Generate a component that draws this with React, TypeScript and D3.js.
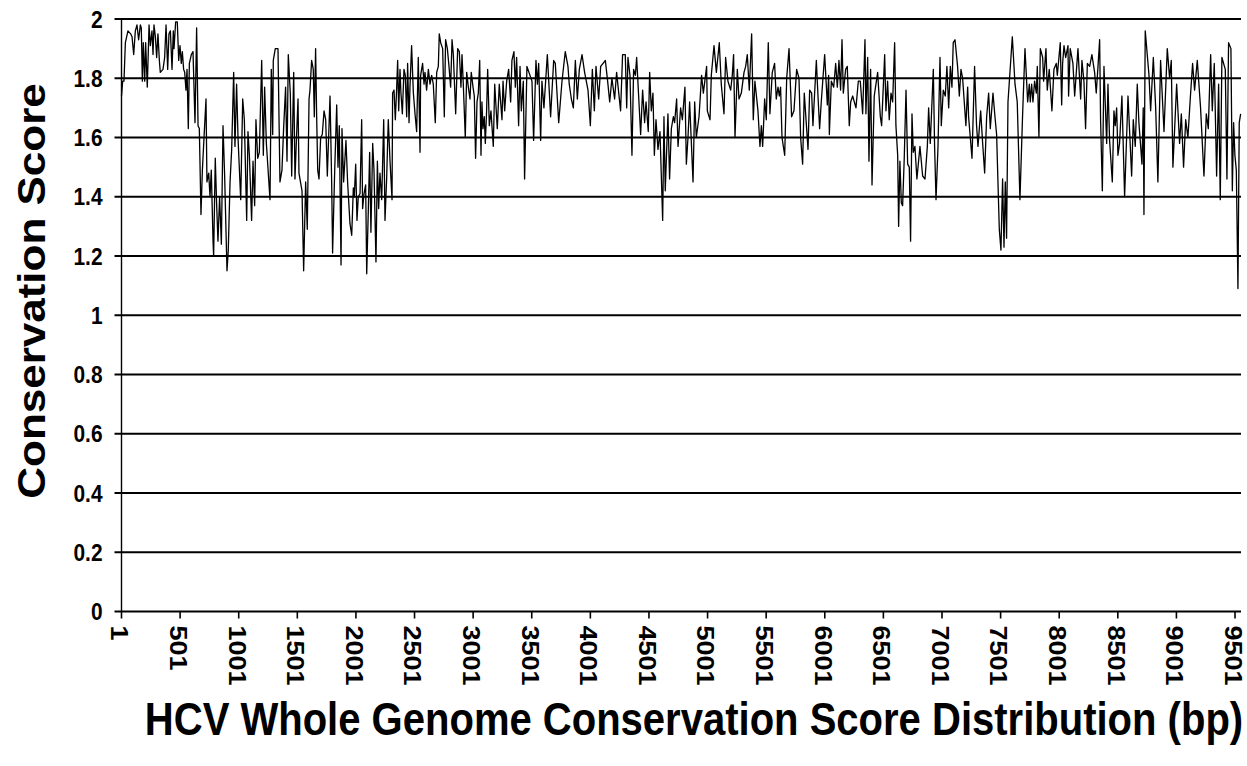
import { useEffect, useRef } from "react";
import * as d3 from "d3";

const basePositions = [
  1, 11, 22, 34, 56, 79, 91, 105, 119, 133, 147, 162, 170, 179, 187, 199, 207, 221, 236, 247,
  261, 270, 278, 290, 301, 312, 324, 332, 355, 369, 381, 395, 406, 418, 432, 443, 449, 463, 477, 489,
  500, 511, 520, 531, 540, 551, 560, 571, 580, 597, 611, 628, 642, 654, 665, 679, 691, 705, 722, 730,
  745, 756, 767, 782, 787, 801, 813, 824, 838, 853, 867, 881, 901, 912, 927, 941, 958, 969, 983, 995,
  1018, 1035, 1049, 1069, 1080, 1092, 1111, 1123, 1137, 1148, 1163, 1177, 1197, 1211, 1222, 1237, 1268, 1279, 1291, 1296,
  1313, 1336, 1353, 1370, 1384, 1401, 1413, 1424, 1441, 1453, 1470, 1481, 1495, 1507, 1515, 1541, 1555,
  1572, 1586, 1601, 1609, 1623, 1637, 1646, 1657, 1666, 1675, 1686, 1700, 1714, 1729, 1743, 1757, 1780, 1794, 1802, 1820,
  1837, 1848, 1859, 1874, 1882, 1896, 1916, 1930, 1950, 1965, 1979, 1987, 1999, 2010, 2021, 2036, 2050, 2058, 2070, 2084,
  2093, 2107, 2118, 2129, 2144, 2155, 2172, 2184, 2195, 2206, 2221, 2238, 2249, 2263, 2277, 2292, 2309, 2314, 2326, 2337,
  2348, 2357, 2366, 2377, 2385, 2397, 2411, 2422, 2434, 2442, 2454, 2462, 2476, 2491, 2505, 2519, 2533, 2548, 2553, 2570,
  2582, 2590, 2604, 2619, 2633, 2647, 2661, 2678, 2690, 2704, 2712, 2724, 2741, 2755, 2766, 2781, 2795, 2809, 2821, 2832,
  2852, 2869, 2883, 2897, 2906, 2917, 2934, 2946, 2960, 2974, 2985, 3000, 3011, 3022, 3034, 3045, 3057, 3068, 3076, 3085,
  3096, 3105, 3116,
  3125, 3139, 3153, 3173, 3185, 3207, 3224, 3247, 3256, 3270, 3287, 3304, 3321, 3332, 3349, 3361, 3372, 3389, 3401, 3412,
  3429, 3440, 3460, 3503, 3517, 3537, 3549, 3560, 3577, 3588, 3605, 3634, 3662, 3688, 3702, 3731, 3759, 3787, 3810, 3821,
  3839, 3856, 3873, 3890, 3907, 3930, 3952, 3981, 4001, 4018, 4035, 4049, 4072, 4089, 4129, 4151, 4166, 4185, 4208, 4225,
  4259, 4276, 4299, 4311, 4322, 4339, 4356, 4370, 4385, 4396, 4413, 4430, 4447, 4464, 4476, 4495, 4507, 4521, 4535, 4547,
  4561, 4578, 4595, 4618, 4629, 4640, 4663,
  4677, 4692, 4709, 4720, 4737, 4749, 4771, 4786, 4808, 4820, 4834, 4848, 4877, 4891, 4905, 4928, 4950, 4965, 4993, 4999,
  5022, 5033, 5056, 5076, 5101, 5118, 5141, 5155, 5175, 5198, 5212, 5223, 5235, 5255, 5269, 5289, 5312, 5326, 5340, 5357,
  5377, 5391, 5405, 5431, 5448, 5460, 5471, 5488, 5502, 5519, 5533, 5553, 5573, 5587, 5602, 5613, 5624, 5636, 5659, 5676,
  5696, 5718, 5738, 5761, 5781, 5795, 5812, 5826, 5858, 5872, 5889, 5900, 5929, 5943, 5957, 5971, 6000, 6023, 6034, 6040,
  6057, 6077, 6094, 6108, 6122, 6136, 6148, 6159, 6179, 6193, 6210, 6222,
  6239, 6267, 6287, 6304, 6324, 6344, 6352, 6367, 6378, 6392, 6404, 6423, 6452, 6475, 6486, 6512, 6523, 6537, 6551, 6566,
  6580, 6597, 6608, 6623, 6631, 6642, 6654, 6665, 6679, 6694, 6708, 6722, 6733, 6745, 6756, 6770, 6787, 6813, 6836, 6856,
  6876, 6887, 6901, 6927, 6938, 6950, 6967, 6984, 6995, 7012, 7029, 7043, 7058, 7072, 7086, 7097, 7112, 7134, 7149, 7163,
  7177, 7205, 7220, 7228, 7257, 7279, 7296, 7308, 7331, 7348, 7365, 7382, 7399, 7413, 7436, 7453, 7467, 7490, 7504, 7518,
  7530, 7541, 7552, 7564, 7601, 7624, 7643, 7666, 7689, 7709, 7732, 7746, 7754, 7766,
  7777, 7791, 7806, 7814, 7828, 7840, 7860, 7868, 7888, 7899, 7916, 7939, 7956, 7976, 7985, 8010, 8022, 8030, 8042, 8056,
  8076, 8081, 8095, 8118, 8133, 8161, 8184, 8195, 8212, 8226, 8241, 8261, 8280, 8303, 8317, 8332, 8346, 8354, 8369, 8383,
  8406, 8417, 8431, 8454, 8468, 8479, 8491, 8502, 8516, 8536, 8559, 8576, 8588, 8619, 8633, 8650, 8667, 8681, 8707, 8718,
  8724, 8735, 8767, 8781, 8804, 8824, 8843, 8866, 8895, 8923, 8943, 8957, 8971, 9003, 9028, 9043, 9062, 9080, 9099, 9119,
  9139, 9156, 9179, 9207, 9236, 9256, 9273, 9293, 9307, 9324, 9344, 9361, 9375, 9389, 9418, 9432, 9446, 9466, 9478, 9489,
  9500, 9512, 9526, 9537, 9549,
];

// conservation score at each of those positions
const conservationScores = [
  1.74, 1.79, 1.79, 1.92, 1.96, 1.95, 1.94, 1.88, 1.96, 1.98, 1.93, 1.98, 1.97, 1.79, 1.92, 1.79, 1.92, 1.77, 1.98, 1.91,
  1.96, 1.88, 1.98, 1.94, 1.87, 1.95, 1.86, 1.82, 1.83, 1.87, 1.98, 1.83, 1.95, 1.96, 1.83, 1.96, 1.9, 1.99, 1.99, 1.86,
  1.91, 1.85, 1.89, 1.83, 1.82, 1.76, 1.83, 1.63, 1.85, 1.88, 1.89, 1.65, 1.97, 1.64, 1.63, 1.34, 1.49, 1.6, 1.73, 1.45,
  1.48, 1.4, 1.49, 1.25, 1.2, 1.53, 1.37, 1.25, 1.4, 1.24, 1.64, 1.47, 1.15, 1.22, 1.45, 1.56, 1.82, 1.57, 1.78, 1.6,
  1.39, 1.73, 1.66, 1.32, 1.62, 1.54, 1.32, 1.52, 1.37, 1.66, 1.53, 1.55, 1.86, 1.54, 1.77, 1.58, 1.39, 1.83, 1.61, 1.86,
  1.9, 1.9, 1.45, 1.49, 1.63, 1.77, 1.52, 1.88, 1.75, 1.47, 1.82, 1.46, 1.61, 1.73, 1.48, 1.42, 1.15,
  1.45, 1.29, 1.73, 1.76, 1.86, 1.83, 1.67, 1.9, 1.67, 1.49, 1.46, 1.6, 1.61, 1.69, 1.66, 1.47, 1.74, 1.45, 1.21, 1.49,
  1.71, 1.5, 1.64, 1.17, 1.63, 1.45, 1.59, 1.45, 1.31, 1.27, 1.43, 1.4, 1.51, 1.32, 1.4, 1.41, 1.66, 1.36, 1.41, 1.44,
  1.14, 1.36, 1.55, 1.28, 1.58, 1.49, 1.18, 1.52, 1.36, 1.48, 1.39, 1.66, 1.32, 1.46, 1.66, 1.52, 1.39, 1.75, 1.76, 1.66,
  1.76, 1.86, 1.69, 1.83, 1.75, 1.68, 1.83, 1.81, 1.67, 1.85, 1.65, 1.77, 1.91, 1.75, 1.68, 1.62, 1.87, 1.55, 1.81, 1.85,
  1.78, 1.82, 1.76, 1.83, 1.78, 1.81, 1.78, 1.65, 1.82, 1.84, 1.95, 1.92, 1.9, 1.67, 1.93, 1.9, 1.84, 1.77, 1.93, 1.88,
  1.68, 1.9, 1.89, 1.77, 1.88, 1.78, 1.6, 1.82, 1.77, 1.73, 1.82, 1.77, 1.74, 1.53, 1.72, 1.75, 1.86, 1.54, 1.72, 1.63,
  1.67, 1.58, 1.69,
  1.83, 1.64, 1.69, 1.57, 1.78, 1.63, 1.78, 1.66, 1.79, 1.69, 1.79, 1.83, 1.72, 1.86, 1.89, 1.77, 1.87, 1.64, 1.84, 1.69,
  1.79, 1.46, 1.84, 1.79, 1.59, 1.86, 1.78, 1.85, 1.59, 1.79, 1.7, 1.88, 1.67, 1.86, 1.85, 1.65, 1.79, 1.89, 1.84, 1.78,
  1.73, 1.7, 1.86, 1.73, 1.83, 1.88, 1.82, 1.76, 1.64, 1.83, 1.69, 1.84, 1.73, 1.84, 1.86, 1.78, 1.72, 1.8, 1.73, 1.82,
  1.69, 1.88, 1.88, 1.7, 1.87, 1.81, 1.54, 1.83, 1.81, 1.87, 1.74, 1.61, 1.76, 1.65, 1.72, 1.62, 1.82, 1.69, 1.75, 1.54,
  1.66, 1.56, 1.62, 1.32, 1.67, 1.42, 1.68,
  1.46, 1.63, 1.67, 1.65, 1.73, 1.57, 1.7, 1.66, 1.77, 1.51, 1.6, 1.72, 1.45, 1.72, 1.6, 1.67, 1.81, 1.75, 1.84, 1.69,
  1.66, 1.81, 1.91, 1.82, 1.92, 1.78, 1.68, 1.87, 1.79, 1.76, 1.81, 1.88, 1.6, 1.83, 1.73, 1.75, 1.82, 1.84, 1.88, 1.76,
  1.95, 1.66, 1.79, 1.69, 1.57, 1.64, 1.57, 1.73, 1.66, 1.92, 1.68, 1.82, 1.85, 1.73, 1.77, 1.74, 1.77, 1.6, 1.54, 1.8,
  1.9, 1.67, 1.69, 1.83, 1.8, 1.6, 1.51, 1.75, 1.56, 1.76, 1.75, 1.64, 1.86, 1.74, 1.63, 1.72, 1.88, 1.71, 1.81, 1.61,
  1.79, 1.77, 1.85, 1.77, 1.86, 1.76, 1.93, 1.75, 1.83, 1.84, 1.64, 1.72,
  1.74, 1.7, 1.79, 1.79, 1.68, 1.93, 1.68, 1.87, 1.52, 1.83, 1.44, 1.74, 1.82, 1.67, 1.64, 1.88, 1.69, 1.79, 1.66, 1.75,
  1.72, 1.92, 1.64, 1.54, 1.3, 1.52, 1.38, 1.37, 1.53, 1.76, 1.51, 1.5, 1.25, 1.68, 1.55, 1.57, 1.46, 1.57, 1.47, 1.46,
  1.57, 1.7, 1.58, 1.83, 1.57, 1.39, 1.57, 1.87, 1.64, 1.76, 1.74, 1.84, 1.7, 1.84, 1.77, 1.92, 1.93, 1.84, 1.74, 1.83,
  1.8, 1.64, 1.77, 1.67, 1.53, 1.84, 1.64, 1.57, 1.69, 1.58, 1.48, 1.67, 1.75, 1.63, 1.75, 1.67, 1.61, 1.29, 1.22, 1.46,
  1.23, 1.45, 1.26, 1.72, 1.94, 1.78, 1.72, 1.39, 1.68, 1.9, 1.72, 1.78, 1.72, 1.78,
  1.72, 1.79, 1.75, 1.84, 1.6, 1.9, 1.87, 1.79, 1.9, 1.76, 1.83, 1.69, 1.83, 1.85, 1.81, 1.92, 1.71, 1.85, 1.91, 1.87,
  1.91, 1.74, 1.9, 1.85, 1.74, 1.9, 1.73, 1.86, 1.79, 1.63, 1.85, 1.84, 1.88, 1.82, 1.75, 1.84, 1.93, 1.66, 1.42, 1.84,
  1.58, 1.78, 1.59, 1.45, 1.69, 1.64, 1.7, 1.54, 1.58, 1.74, 1.4, 1.6, 1.74, 1.47, 1.66, 1.57, 1.78, 1.65, 1.51, 1.7,
  1.34, 1.96, 1.81, 1.69, 1.87, 1.7, 1.45, 1.86, 1.62, 1.9, 1.8, 1.86, 1.5, 1.78, 1.58, 1.68, 1.5, 1.66, 1.6, 1.73,
  1.85, 1.76, 1.86, 1.7, 1.47, 1.68, 1.63, 1.88, 1.69, 1.85, 1.47, 1.78, 1.39, 1.87, 1.83, 1.46, 1.92, 1.9, 1.42, 1.65,
  1.54, 1.49, 1.09, 1.65, 1.68,
];

const genomeLength = 9552;
const xTickValues = [1, 501, 1001, 1501, 2001, 2501, 3001, 3501, 4001, 4501, 5001, 5501, 6001, 6501, 7001, 7501, 8001, 8501, 9001, 9501];
const yTickValues = [0, 0.2, 0.4, 0.6, 0.8, 1, 1.2, 1.4, 1.6, 1.8, 2];
const yTickLabels = ["0", "0.2", "0.4", "0.6", "0.8", "1", "1.2", "1.4", "1.6", "1.8", "2"];
const xTitle = "HCV Whole Genome Conservation Score Distribution (bp)";
const yTitle = "Conservation Score";

const FONT = "'Liberation Sans', Arial, Helvetica, sans-serif";
const SQUEEZE = 0.87; // the source figure is slightly narrowed horizontally

function ConservationChart() {
  const svgRef = useRef<SVGSVGElement>(null);
  const width = 1247;
  const height = 766;
  const margin = { top: 19, right: 6, bottom: 154.5, left: 121.5 };

  useEffect(() => {
    const svg = d3.select(svgRef.current);
    svg.selectAll("*").remove();

    const x = d3.scaleLinear().domain([1, genomeLength]).range([margin.left, width - margin.right]);
    const y = d3.scaleLinear().domain([0, 2]).range([height - margin.bottom, margin.top]);

    // horizontal gridlines (they run past the axis as the y ticks)
    svg
      .append("g")
      .selectAll("line")
      .data(yTickValues.filter((v) => v > 0))
      .join("line")
      .attr("x1", margin.left - 7)
      .attr("x2", width - margin.right)
      .attr("y1", (d) => y(d))
      .attr("y2", (d) => y(d))
      .attr("stroke", "#000")
      .attr("stroke-width", 2);

    // y axis line
    svg
      .append("line")
      .attr("x1", margin.left)
      .attr("x2", margin.left)
      .attr("y1", y(2))
      .attr("y2", y(0))
      .attr("stroke", "#000")
      .attr("stroke-width", 1.4);

    // x axis line + ticks
    svg
      .append("line")
      .attr("x1", margin.left - 7)
      .attr("x2", width - margin.right)
      .attr("y1", y(0))
      .attr("y2", y(0))
      .attr("stroke", "#000")
      .attr("stroke-width", 2.2);

    svg
      .append("g")
      .selectAll("line")
      .data(xTickValues)
      .join("line")
      .attr("x1", (d) => x(d))
      .attr("x2", (d) => x(d))
      .attr("y1", y(0))
      .attr("y2", y(0) + 7)
      .attr("stroke", "#000")
      .attr("stroke-width", 1.6);

    // conservation trace
    const line = d3
      .line<number>()
      .x((i) => x(basePositions[i]))
      .y((i) => y(conservationScores[i]));

    svg
      .append("path")
      .attr("d", line(d3.range(basePositions.length)))
      .attr("fill", "none")
      .attr("stroke", "#000")
      .attr("stroke-width", 1.3)
      .attr("stroke-linejoin", "round");

    // y tick labels
    svg
      .append("g")
      .selectAll("text")
      .data(yTickValues)
      .join("text")
      .attr("transform", (d) => `translate(${margin.left - 19},${y(d)}) scale(${SQUEEZE},1)`)
      .attr("text-anchor", "end")
      .attr("dy", "0.36em")
      .attr("font-family", FONT)
      .attr("font-weight", "bold")
      .attr("font-size", 24)
      .text((d, i) => yTickLabels[i]);

    // x tick labels, rotated to read downward
    svg
      .append("g")
      .selectAll("text")
      .data(xTickValues)
      .join("text")
      .attr("transform", (d) => `translate(${x(d)},${y(0) + 14}) scale(${SQUEEZE},1) rotate(90)`)
      .attr("text-anchor", "start")
      .attr("dy", "0.43em")
      .attr("font-family", FONT)
      .attr("font-weight", "bold")
      .attr("font-size", 27)
      .text((d) => String(d));

    // axis titles
    svg
      .append("text")
      .attr("transform", `translate(45,291) scale(${SQUEEZE},1) rotate(-90)`)
      .attr("text-anchor", "middle")
      .attr("font-family", FONT)
      .attr("font-weight", "bold")
      .attr("font-size", 44)
      .text(yTitle);

    svg
      .append("text")
      .attr("transform", `translate(694,735) scale(${SQUEEZE},1)`)
      .attr("text-anchor", "middle")
      .attr("font-family", FONT)
      .attr("font-weight", "bold")
      .attr("font-size", 46)
      .text(xTitle);
  }, []);

  return (
    <svg
      ref={svgRef}
      width={width}
      height={height}
      style={{ position: "absolute", left: 0, top: 0, background: "#fff" }}
    />
  );
}

export default function App() {
  return <ConservationChart />;
}
